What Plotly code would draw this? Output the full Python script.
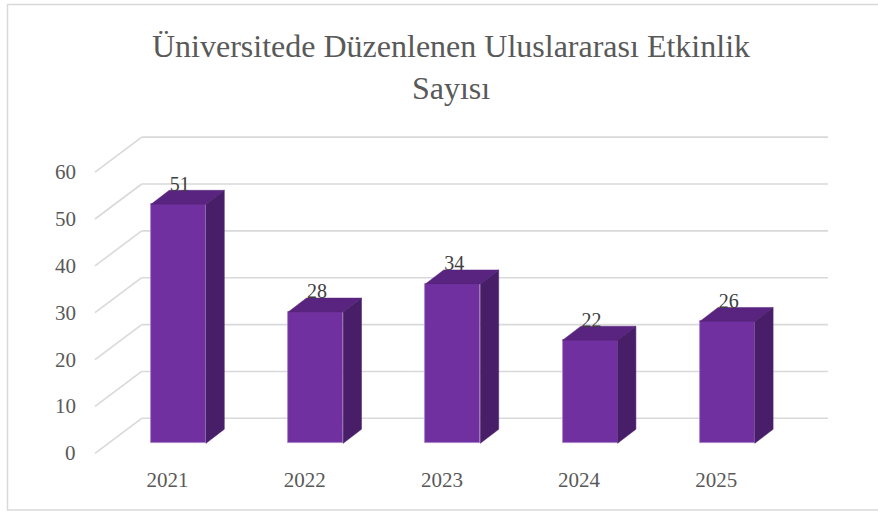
import plotly.graph_objects as go

# ---- data ----
categories = ["2021", "2022", "2023", "2024", "2025"]
values = [51, 28, 34, 22, 26]
y_ticks = [0, 10, 20, 30, 40, 50, 60]
title_text = "Üniversitede Düzenlenen Uluslararası Etkinlik<br>Sayısı"

# ---- geometry / style (pseudo 3D, in axis units) ----
W, H = 878, 511
ML, MR, MT, MB = 14, 14, 120, 46
PX_PER_X = 137.2          # px per category
PX_PER_Y = 4.686          # px per value unit
X0_PX = 178.5             # pixel of first category centre
Y0_PX = 443.3             # pixel of value 0 (bar front plane)

bar_w = 55 / PX_PER_X
bdx, bdy = 18.3 / PX_PER_X, 14 / PX_PER_Y          # bar depth
back_dy = 25 / PX_PER_Y                             # back wall offset
front_dy = -10 / PX_PER_Y                           # front edge offset
back_x0 = (141.7 - X0_PX) / PX_PER_X
back_x1 = (828 - X0_PX) / PX_PER_X
front_x = (95 - X0_PX) / PX_PER_X
lab_shift = -11 / PX_PER_X

x_range = [(ML - X0_PX) / PX_PER_X, (W - MR - X0_PX) / PX_PER_X]
y_range = [(Y0_PX - (H - MB)) / PX_PER_Y, (Y0_PX - MT) / PX_PER_Y]

FRONT = "#7030A0"
TOP = "#58247f"
SIDE = "#481e69"
GRID = "#d9d9d9"
SERIF = "Liberation Serif, Times New Roman, serif"

fig = go.Figure()

# gridlines (back wall + diagonal side lines) as shapes below the traces
for t in y_ticks:
    fig.add_shape(type="line", xref="x", yref="y",
                  x0=front_x, y0=t + front_dy, x1=back_x0, y1=t + back_dy,
                  line=dict(color=GRID, width=1.6), layer="below")
    fig.add_shape(type="line", xref="x", yref="y",
                  x0=back_x0, y0=t + back_dy, x1=back_x1, y1=t + back_dy,
                  line=dict(color=GRID, width=1.6), layer="below")

# front faces
xs = list(range(len(categories)))
fig.add_trace(go.Bar(x=xs, y=values, width=bar_w,
                     marker=dict(color=FRONT, line=dict(color="#a57fc6", width=0.8)),
                     hoverinfo="skip", showlegend=False))

# top and side faces
for i, v in zip(xs, values):
    l, r = i - bar_w / 2, i + bar_w / 2
    fig.add_trace(go.Scatter(
        x=[l, l + bdx, r + bdx, r, l], y=[v, v + bdy, v + bdy, v, v],
        fill="toself", fillcolor=TOP, mode="lines",
        line=dict(color=TOP, width=0.5), hoverinfo="skip", showlegend=False))
    fig.add_trace(go.Scatter(
        x=[r, r + bdx, r + bdx, r, r], y=[0, bdy, v + bdy, v, 0],
        fill="toself", fillcolor=SIDE, mode="lines",
        line=dict(color=SIDE, width=0.5), hoverinfo="skip", showlegend=False))

# data labels
fig.add_trace(go.Scatter(
    x=[i + 0.01 for i in xs], y=[v + bdy + 1.0 for v in values],
    mode="text", text=[str(v) for v in values],
    textposition="middle center",
    textfont=dict(family=SERIF, size=20, color="#404040"),
    hoverinfo="skip", showlegend=False))

# value-axis labels at the front ends of the diagonal lines
for t in y_ticks:
    fig.add_annotation(x=front_x - 0.125, y=t + front_dy, text=str(t),
                       showarrow=False, xanchor="right", yanchor="middle",
                       font=dict(family=SERIF, size=21, color="#595959"))

# chart border
def xp(px):
    return (px - ML) / (W - ML - MR)

def yp(py):
    return (H - MB - py) / (H - MT - MB)

fig.add_shape(type="rect", xref="paper", yref="paper",
              x0=xp(7.5), x1=xp(884), y0=yp(510), y1=yp(4.5),
              line=dict(color="#d9d9d9", width=1.5), layer="below")

fig.update_layout(
    width=W, height=H,
    margin=dict(l=ML, r=MR, t=MT, b=MB),
    paper_bgcolor="white", plot_bgcolor="white",
    title=dict(text=title_text, xref="container", x=451 / W, xanchor="center",
               yref="container", y=1 - 57 / H, yanchor="middle",
               font=dict(family=SERIF, size=32, color="#595959")),
    xaxis=dict(range=x_range, showgrid=False, zeroline=False, showline=False,
               tickvals=[i + lab_shift for i in xs], ticktext=categories,
               ticks="", tickfont=dict(family=SERIF, size=21, color="#595959")),
    yaxis=dict(range=y_range, showgrid=False, zeroline=False, showline=False,
               showticklabels=False),
    bargap=0,
)

fig.write_html("out.html", config={"displayModeBar": False},
               post_script="document.body.style.margin='0';")
